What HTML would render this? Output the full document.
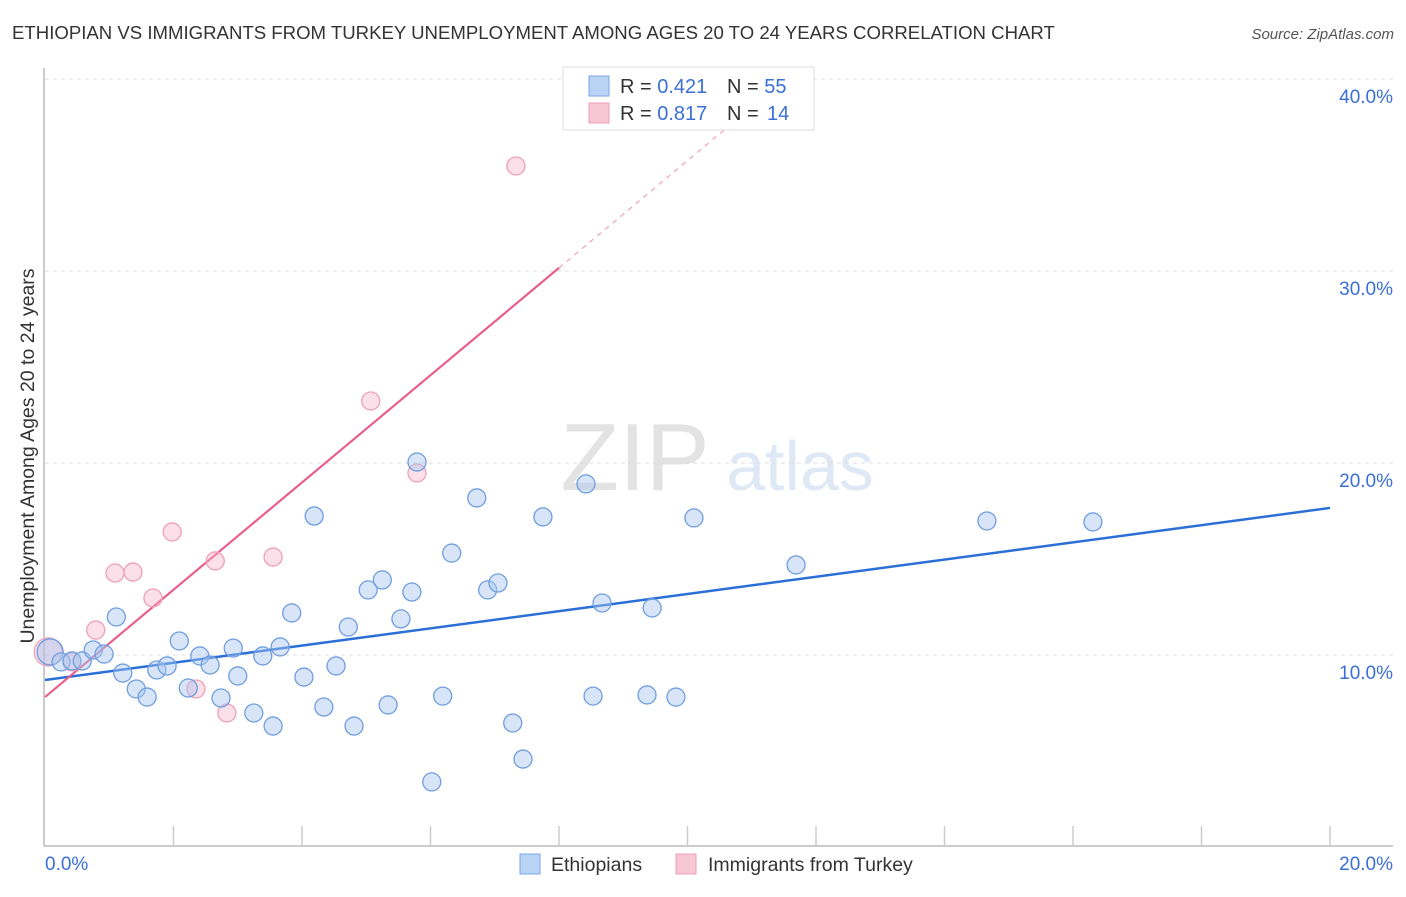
<!DOCTYPE html>
<html><head><meta charset="utf-8"><style>
body{margin:0;background:#fff;font-family:"Liberation Sans",sans-serif;}
svg text{font-family:"Liberation Sans",sans-serif;}
</style></head><body>
<svg id="chart" width="1406" height="892" xmlns="http://www.w3.org/2000/svg">
<text x="12" y="39" font-size="18.6" fill="#333">ETHIOPIAN VS IMMIGRANTS FROM TURKEY UNEMPLOYMENT AMONG AGES 20 TO 24 YEARS CORRELATION CHART</text>
<text x="1394" y="39" font-size="15" fill="#555" font-style="italic" text-anchor="end">Source: ZipAtlas.com</text>
<g>
<text x="635" y="490" font-size="96" fill="#e3e3e3" font-family="Liberation Serif" text-anchor="middle">ZIP</text>
<text x="800" y="490" font-size="70" fill="#dfe8f5" text-anchor="middle">atlas</text>
</g>
<g id="grid"></g>
<g id="axes"></g>
<g id="lines"></g>
<g id="points"></g>
<text transform="translate(34,456) rotate(-90)" font-size="19.5" fill="#333" text-anchor="middle">Unemployment Among Ages 20 to 24 years</text>
<g>
<rect x="563" y="67" width="251" height="63" fill="#fff" stroke="#ddd"/>
<rect x="589" y="76" width="20" height="20" fill="#b9d3f5" stroke="#7aa6e6"/>
<text x="620" y="93" font-size="20" fill="#333">R = <tspan fill="#3a6fd8">0.421</tspan></text>
<text x="727" y="93" font-size="20" fill="#333">N = <tspan fill="#3a6fd8">55</tspan></text>
<rect x="589" y="103" width="20" height="20" fill="#f8c7d5" stroke="#ee9fb6"/>
<text x="620" y="120" font-size="20" fill="#333">R = <tspan fill="#3a6fd8">0.817</tspan></text>
<text x="727" y="120" font-size="20" fill="#333">N = <tspan x="767" fill="#3a6fd8">14</tspan></text>
</g>
<g>
<rect x="520" y="854" width="20" height="20" fill="#b9d3f5" stroke="#7aa6e6"/>
<text x="551" y="871" font-size="19.5" fill="#333">Ethiopians</text>
<rect x="676" y="854" width="20" height="20" fill="#f8c7d5" stroke="#ee9fb6"/>
<text x="708" y="871" font-size="19.5" fill="#333">Immigrants from Turkey</text>
</g>
</svg>
<script>
const blueX=[0.08,0.25,0.42,0.58,0.75,0.92,1.11,1.21,1.42,1.59,1.74,1.90,2.09,2.23,2.41,2.57,2.74,2.93,3.00,3.25,3.39,3.55,3.66,3.84,4.03,4.19,4.34,4.53,4.72,4.81,5.03,5.25,5.34,5.54,5.71,5.79,6.02,6.19,6.33,6.72,6.89,7.05,7.28,7.44,7.75,8.42,8.53,8.67,9.37,9.45,9.82,10.10,11.69,14.66,16.31];
const blueY=[10.16,9.64,9.69,9.69,10.26,10.05,11.98,9.06,8.23,7.81,9.22,9.43,10.73,8.28,9.95,9.48,7.76,10.36,8.91,6.98,9.95,6.30,10.42,12.19,8.85,17.24,7.29,9.43,11.46,6.30,13.39,13.91,7.40,11.88,13.28,20.05,3.39,7.86,15.31,18.18,13.39,13.75,6.46,4.58,17.19,18.91,7.86,12.71,7.92,12.45,7.81,17.14,14.69,16.98,16.93];
const pinkX=[0.05,0.42,0.79,1.09,1.37,1.68,1.98,2.35,2.65,2.83,3.55,5.07,5.79,7.33];
const pinkY=[10.16,9.64,11.30,14.27,14.32,12.97,16.41,8.23,14.90,6.98,15.10,23.23,19.48,35.47];
const blueTrend=[8.70,17.66];
const pinkTrend=[7.81,2.794];
const yTicks=[10,20,30,40];
const xLabels=["0.0%","20.0%"];
const NS="http://www.w3.org/2000/svg";
const sx=v=>45+v*64.25, sy=v=>847-v*19.2;
function mk(parent,tag,attrs){const e=document.createElementNS(NS,tag);for(const k in attrs)e.setAttribute(k,attrs[k]);document.getElementById(parent).appendChild(e);return e;}
yTicks.forEach(t=>{
 let l=mk('grid','line',{x1:45,x2:1393,y1:sy(t),y2:sy(t),stroke:'#ddd','stroke-dasharray':'4,4'});
 
 
 let tx=mk('grid','text',{x:1393,y:sy(t)+24,'font-size':19,fill:'#3a6fd8','text-anchor':'end'});
 tx.textContent=t.toFixed(1)+'%';
 
 
});
let ya=mk('axes','line',{x1:44,x2:44,y1:68,y2:846,stroke:'#bbb','stroke-width':1.5});


let xa=mk('axes','line',{x1:44,x2:1393,y1:846,y2:846,stroke:'#bbb','stroke-width':1.5});


for(let i=1;i<=10;i++){
 let t=mk('axes','line',{x1:sx(i*2),x2:sx(i*2),y1:826,y2:846,stroke:'#ccc','stroke-width':1.5});
 
 
}
[[0,xLabels[0],'start',45],[20,xLabels[1],'end',1393]].forEach(d=>{
 let t=mk('axes','text',{x:d[3],y:870,'font-size':19,fill:'#3a6fd8','text-anchor':d[2]});
 t.textContent=d[1];
 
 
});
let bl=mk('lines','line',{x1:sx(0),y1:sy(blueTrend[0]),x2:sx(20),y2:sy(blueTrend[1]),stroke:'#2a6fd6','stroke-width':2.5});


let pe=8;
let pl=mk('lines','line',{x1:sx(0),y1:sy(pinkTrend[0]),x2:sx(pe),y2:sy(pinkTrend[0]+pinkTrend[1]*pe),stroke:'#e8608a','stroke-width':2.2});


let x40=(40-pinkTrend[0])/pinkTrend[1];
let pd=mk('lines','line',{x1:sx(pe),y1:sy(pinkTrend[0]+pinkTrend[1]*pe),x2:sx(x40),y2:sy(40),stroke:'#f0a0b8','stroke-width':1.2,'stroke-dasharray':'5,5'});


pinkX.forEach((x,i)=>{
 let c=mk('points','circle',{cx:sx(x),cy:sy(pinkY[i]),r:i==0?14:9,fill:'rgba(246,178,200,0.4)',stroke:'#eea0b8','stroke-width':1.3});
 
 
});
blueX.forEach((x,i)=>{
 let c=mk('points','circle',{cx:sx(x),cy:sy(blueY[i]),r:i==0?13:9,fill:'rgba(168,198,240,0.45)',stroke:'#6f9ee0','stroke-width':1.3});
 
 
});
</script>
</body></html>
